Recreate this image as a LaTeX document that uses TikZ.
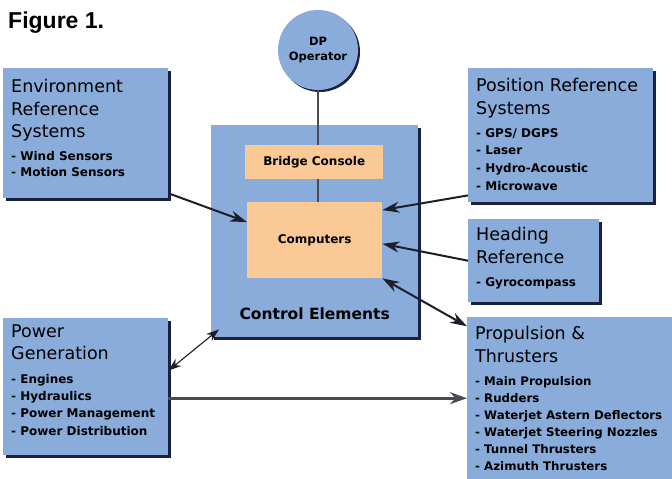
\documentclass[tikz,border=0pt]{standalone}
\usepackage{fontspec}
\setmainfont{DejaVu Sans}
\newfontfamily\titlefont{Liberation Sans}
\usetikzlibrary{arrows.meta,shadows}

\definecolor{boxblue}{HTML}{89ACDB}
\definecolor{boxorange}{HTML}{FAC995}
\definecolor{shadowblue}{HTML}{1B2240}
\definecolor{linegray}{HTML}{1E1E2A}
\definecolor{plaingray}{HTML}{4A4A55}

\tikzset{
  bluebox/.style={fill=boxblue, inner sep=0pt, anchor=north west,
    drop shadow={shadow xshift=2.5pt, shadow yshift=-2.5pt, fill=shadowblue, opacity=1}},
  orangebox/.style={fill=boxorange, inner sep=0pt, anchor=north west,
    font=\bfseries\fontsize{12}{14}\selectfont},
  heading/.style={anchor=north west, inner sep=0pt, align=left,
    font=\fontsize{17.5}{22.5}\selectfont},
  items/.style={anchor=north west, inner sep=0pt, align=left,
    font=\bfseries\fontsize{12}{17.3}\selectfont},
  conn/.style={draw=linegray, line width=2pt, -{Stealth[length=17pt,width=11pt]}},
  thinconn/.style={draw=linegray, line width=1.1pt,
    {Stealth[length=13pt,width=9pt]}-{Stealth[length=13pt,width=9pt]}},
  plainline/.style={draw=plaingray, line width=2.4pt},
}

\begin{document}
\begin{tikzpicture}[x=1pt, y=-1pt]
        \useasboundingbox (0,0) rectangle (672,479);
        \fill[white] (0,0) rectangle (672,479);

        % Title
        \node[anchor=north west, inner sep=0pt, font=\titlefont\bfseries\fontsize{23}{23}\selectfont] (fig) at (8,12) {Figure 1.};

        % Control elements
        \node[bluebox, minimum width=207pt, minimum height=212pt] (ctrl) at (211,125) {};
        \node[anchor=base, inner sep=0pt, font=\bfseries\fontsize{15.5}{15.5}\selectfont] (ctrltext) at ([yshift=18pt]ctrl.south) {Control Elements};

        % DP operator
        \node[circle, fill=boxblue, minimum size=80pt, inner sep=0pt, align=center,
              font=\bfseries\fontsize{11.5}{15}\selectfont,
              drop shadow={shadow xshift=2pt, shadow yshift=-2pt, fill=shadowblue, opacity=1}] (op) at (318,50) {DP\\Operator};

        % Bridge console and computers
        \node[orangebox, minimum width=138pt, minimum height=34pt] (bridge) at (245,145) {Bridge Console};
        \node[orangebox, minimum width=135pt, minimum height=76pt] (comp) at (247,202) {Computers};
        \draw[plainline] (op.south) -- (op.south |- bridge.north);
        \draw[plainline] (op.south |- bridge.south) -- (op.south |- comp.north);

        % Environment reference
        \node[bluebox, minimum width=165pt, minimum height=130pt] (env) at (3,68) {};
        \node[heading] (envhead) at ([shift={(8,11.5)}]env.north west) {Environment\\Reference\\Systems};
        \node[items, font=\bfseries\fontsize{12}{16.5}\selectfont] (envlist) at ([shift={(8,83)}]env.north west) {- Wind Sensors\\- Motion Sensors};

        % Position reference
        \node[bluebox, minimum width=185pt, minimum height=134pt] (pos) at (468,68) {};
        \node[heading] (poshead) at ([shift={(8,10.5)}]pos.north west) {Position Reference\\Systems};
        \node[items, font=\bfseries\fontsize{12}{17.7}\selectfont] (poslist) at ([shift={(8,60)}]pos.north west) {- GPS/ DGPS\\- Laser\\- Hydro-Acoustic\\- Microwave};

        % Heading reference
        \node[bluebox, minimum width=131pt, minimum height=83pt] (head) at (468,219) {};
        \node[heading] (headhead) at ([shift={(8,8.5)}]head.north west) {Heading\\Reference};
        \node[items] (headlist) at ([shift={(8,58)}]head.north west) {- Gyrocompass};

        % Propulsion
        \node[bluebox, minimum width=205pt, minimum height=162pt] (prop) at (467,317) {};
        \node[heading] (prophead) at ([shift={(8,9.5)}]prop.north west) {Propulsion \&\\Thrusters};
        \node[items, font=\bfseries\fontsize{11.8}{17}\selectfont] (proplist) at ([shift={(8,59.5)}]prop.north west) {- Main Propulsion\\- Rudders\\- Waterjet Astern Deflectors\\- Waterjet Steering Nozzles\\- Tunnel Thrusters\\- Azimuth Thrusters};

        % Power generation
        \node[bluebox, minimum width=165pt, minimum height=137pt] (power) at (3,318) {};
        \node[heading] (powerhead) at ([shift={(8,6.5)}]power.north west) {Power\\Generation};
        \node[items] (powerlist) at ([shift={(8,56)}]power.north west) {- Engines\\- Hydraulics\\- Power Management\\- Power Distribution};

        % Connections
        \draw[conn] (env.-36) -- (comp.165);
        \draw[conn] (pos.213) -- (comp.24);
        \draw[conn] (head.west) -- (comp.-3);
        \draw[conn, {Stealth[length=17pt,width=11pt]}-{Stealth[length=17pt,width=11pt]}] (comp.south east) -- (prop.145);
        \draw[thinconn] (power.11) -- ([shift={(8,-8)}]ctrl.south west);
        \draw[draw=plaingray, line width=2.6pt, -{Stealth[length=17pt,width=12pt]}] (power.east |- prop.west) -- (prop.west);
    \end{tikzpicture}
\end{document}
